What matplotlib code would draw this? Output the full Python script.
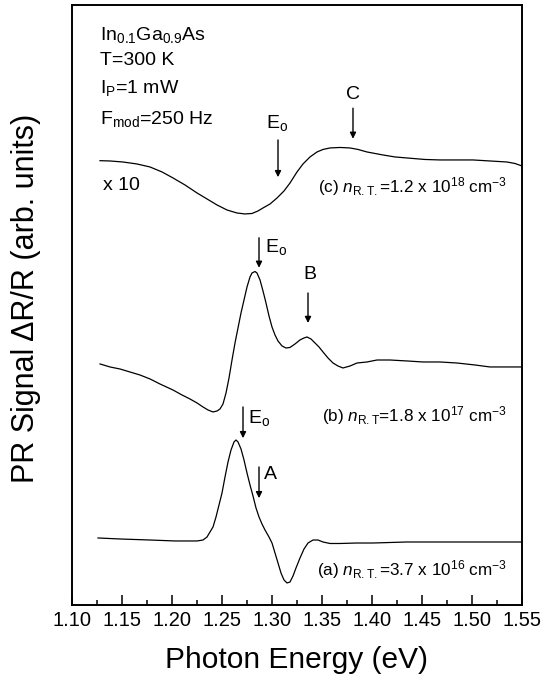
import matplotlib
matplotlib.use('Agg')
import matplotlib.pyplot as plt
from matplotlib.ticker import MultipleLocator, FormatStrFormatter

plt.rcParams['font.family'] = ['Liberation Sans', 'DejaVu Sans']
plt.rcParams['mathtext.fontset'] = 'custom'
plt.rcParams['mathtext.rm'] = 'Liberation Sans'
plt.rcParams['mathtext.it'] = 'Liberation Sans:italic'

# photon energy (eV) and PR signal (arb. units, offset per trace)
energy_c = [1.128, 1.138, 1.151, 1.165, 1.178, 1.190, 1.201, 1.213, 1.225, 1.235,
            1.245, 1.255, 1.265, 1.273, 1.280, 1.286, 1.291, 1.298, 1.305, 1.312,
            1.318, 1.325, 1.331, 1.338, 1.345, 1.351, 1.358, 1.368, 1.378, 1.386,
            1.395, 1.403, 1.411, 1.423, 1.435, 1.453, 1.468, 1.485, 1.501, 1.518,
            1.535, 1.543, 1.550]
signal_c = [74.05, 74.0, 73.83, 73.5, 73.0, 72.17, 71.17, 70.0, 68.67, 67.67,
            66.67, 65.83, 65.33, 65.17, 65.25, 65.67, 66.17, 66.83, 67.83, 69.0,
            70.33, 72.17, 73.5, 74.67, 75.5, 75.92, 76.17, 76.25, 76.17, 75.92,
            75.5, 75.25, 75.0, 74.67, 74.5, 74.25, 74.17, 74.17, 74.17, 74.0,
            73.83, 73.58, 73.17]

energy_b = [1.128, 1.138, 1.148, 1.158, 1.168, 1.178, 1.188, 1.201, 1.210, 1.218,
            1.225, 1.231, 1.236, 1.241, 1.245, 1.248, 1.251, 1.254, 1.257, 1.260,
            1.263, 1.266, 1.269, 1.272, 1.275, 1.278, 1.280, 1.283, 1.285, 1.288,
            1.291, 1.294, 1.297, 1.300, 1.303, 1.306, 1.310, 1.314, 1.318, 1.323,
            1.328, 1.332, 1.335, 1.339, 1.343, 1.347, 1.351, 1.356, 1.361, 1.366,
            1.371, 1.378, 1.385, 1.395, 1.405, 1.418, 1.435, 1.451, 1.468, 1.485,
            1.503, 1.518, 1.535, 1.550]
signal_b = [40.17, 39.67, 39.33, 38.83, 38.33, 37.67, 36.83, 35.83, 35.0, 34.33,
            33.67, 33.0, 32.5, 32.17, 32.33, 32.67, 33.5, 35.33, 37.83, 40.83,
            43.67, 46.17, 48.67, 50.83, 53.0, 54.67, 55.33, 55.58, 55.33, 54.17,
            52.33, 50.33, 48.17, 46.33, 45.0, 44.0, 43.17, 42.83, 42.92, 43.5,
            44.17, 44.5, 44.67, 44.33, 43.67, 43.0, 42.17, 41.17, 40.33, 39.83,
            39.5, 39.83, 40.33, 40.5, 40.83, 40.83, 40.67, 40.5, 40.5, 40.33,
            40.0, 39.67, 39.67, 39.67]

energy_a = [1.126, 1.148, 1.178, 1.203, 1.225, 1.231, 1.235, 1.238, 1.241, 1.244,
            1.247, 1.250, 1.253, 1.256, 1.259, 1.262, 1.264, 1.266, 1.269, 1.272,
            1.275, 1.278, 1.281, 1.284, 1.287, 1.290, 1.293, 1.297, 1.300, 1.303,
            1.306, 1.309, 1.312, 1.315, 1.318, 1.321, 1.324, 1.328, 1.332, 1.336,
            1.341, 1.346, 1.351, 1.358, 1.368, 1.385, 1.401, 1.435, 1.468, 1.501,
            1.550]
signal_a = [11.17, 11.0, 10.83, 10.67, 10.67, 10.83, 11.33, 12.17, 13.0, 14.67,
            16.67, 18.67, 21.33, 23.83, 25.83, 27.17, 27.5, 27.17, 26.0, 24.17,
            22.0, 20.0, 18.17, 16.17, 14.67, 13.5, 12.5, 11.33, 10.33, 8.67,
            7.0, 5.33, 4.17, 3.67, 3.83, 4.83, 6.17, 7.83, 9.33, 10.33,
            10.83, 10.83, 10.5, 10.25, 10.25, 10.33, 10.33, 10.5, 10.5, 10.5,
            10.5]

# arrow markers: (label, energy, tail, tip)
markers = [
    ('E$_\\mathregular{o}$', 1.306, 77.5, 71.3),
    ('C', 1.381, 82.8, 77.7),
    ('E$_\\mathregular{o}$', 1.287, 61.2, 56.2),
    ('B', 1.336, 52.0, 47.0),
    ('E$_\\mathregular{o}$', 1.271, 33.0, 27.8),
    ('A', 1.287, 23.0, 17.8),
]

info_lines = ['In$_\\mathregular{0.1}$Ga$_\\mathregular{0.9}$As', 'T=300 K',
              'I$_\\mathregular{P}$=1 mW', 'F$_\\mathregular{mod}$=250 Hz']
trace_labels = [
    '(c) $\\mathit{n}_\\mathregular{R.T.}$=1.2 x 10$^\\mathregular{18}$ cm$^\\mathregular{-3}$',
    '(b) $\\mathit{n}_\\mathregular{R.T}$=1.8 x 10$^\\mathregular{17}$ cm$^\\mathregular{-3}$',
    '(a) $\\mathit{n}_\\mathregular{R.T.}$=3.7 x 10$^\\mathregular{16}$ cm$^\\mathregular{-3}$',
]

fig = plt.figure(figsize=(5.54, 6.9), dpi=100)
ax = fig.add_axes([0.130, 0.1232, 0.8122, 0.8696])

for e, s in [(energy_c, signal_c), (energy_b, signal_b), (energy_a, signal_a)]:
    ax.plot(e, s, color='black', lw=0.9)

for label, x, tail, tip in markers:
    ax.annotate('', xy=(x, tip), xytext=(x, tail),
                arrowprops=dict(arrowstyle='-|>', color='black', lw=1.0,
                                mutation_scale=9, shrinkA=0, shrinkB=0))

ax.text(1.305, 80.3, markers[0][0], fontsize=14, ha='center', va='center')
ax.text(1.381, 85.0, 'C', fontsize=14, ha='center', va='center')
ax.text(1.293, 59.7, markers[2][0], fontsize=14, ha='left', va='center')
ax.text(1.338, 55.0, 'B', fontsize=14, ha='center', va='center')
ax.text(1.276, 31.2, markers[4][0], fontsize=14, ha='left', va='center')
ax.text(1.292, 21.7, 'A', fontsize=14, ha='left', va='center')

for line, yb in zip(info_lines, [94.2, 90.0, 85.3, 80.2]):
    ax.text(1.128, yb, line, fontsize=14, ha='left', va='baseline')

ax.text(1.131, 69.2, 'x 10', fontsize=14, ha='left', va='baseline')
for label, yb in zip(trace_labels, [68.8, 30.6, 5.0]):
    ax.text(1.535, yb, label, fontsize=12.3, ha='right', va='baseline')

ax.set_xlim(1.10, 1.55)
ax.set_ylim(0, 100)
ax.set_yticks([])
ax.xaxis.set_major_locator(MultipleLocator(0.05))
ax.xaxis.set_minor_locator(MultipleLocator(0.025))
ax.xaxis.set_major_formatter(FormatStrFormatter('%.2f'))
ax.tick_params(axis='x', which='major', direction='in', length=7, width=1.1,
               labelsize=14.5, pad=4)
ax.tick_params(axis='x', which='minor', direction='in', length=3.5, width=1.1)
for sp in ax.spines.values():
    sp.set_linewidth(1.4)

ax.set_xlabel('Photon Energy (eV)', fontsize=21.5, labelpad=12)
fig.text(26 / 554, 1 - 298 / 690, 'PR Signal \u0394R/R (arb. units)', fontsize=22,
         rotation=90, ha='center', va='center')

plt.savefig('out.png', dpi=100)
